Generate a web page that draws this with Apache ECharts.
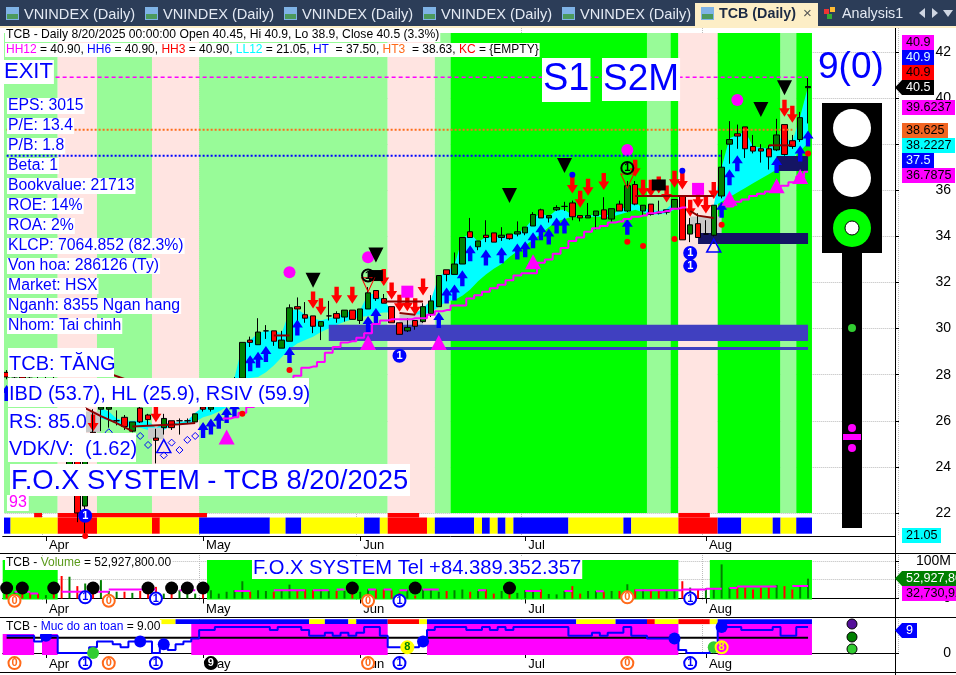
<!DOCTYPE html>
<html>
<head>
<meta charset="utf-8">
<title>TCB Daily</title>
<script src="https://cdn.jsdelivr.net/npm/echarts@6/dist/echarts.min.js"></script>
<style>
html, body { margin: 0; padding: 0; background: #fff; overflow: hidden; }
#chart { width: 956px; height: 675px; }
</style>
</head>
<body>
<div id="chart"></div>
<script>
// month starts on the bar axis, 103 bars plus empty slots up to the price scale
var monthStarts = [5, 25, 45, 66, 89];
var monthNames = ["Apr", "May", "Jun", "Jul", "Aug"];
var slotCount = 114;
var barCount = 103;

// open, close, low, high
var candles = [
    [28.1,27.9,27.8,28.2],[27.9,28,27.7,28.2],[28,27.85,27.7,28.1],[27.85,27.8,27.6,28],[27.8,27.6,27.4,27.9],
    [27.6,27.8,27.5,27.9],[27.8,27.5,27.4,27.9],[26.5,24.7,24.7,26.5],[23.6,24.3,23.2,24.8],[24.3,22,21.6,24.3],
    [22.3,24.8,21.05,25.2],[25.5,25.4,25.2,26.5],[26.5,26.6,25.55,26.8],[26.5,26.6,25.7,26.8],[26,26,25.8,26.45],
    [26.15,25.75,25.6,26.25],[25.55,25.95,25.5,25.95],[26.55,25.95,25.9,26.6],[26.25,26.05,25.8,26.3],[25.25,25.15,24.15,25.65],
    [25.7,26.1,25.4,26.3],[26,25.7,25.6,26],[26,26,25.4,26.1],[26,26,25.9,26.1],[25.95,26.3,25.9,26.3],
    [26.6,26.5,26.4,26.75],[26.5,26.6,26.4,26.8],[26.7,27,26.6,27.1],[27,27.3,26.9,27.4],[27.3,27.8,27.2,27.9],
    [27.85,29.4,27.85,29.4],[29.5,29.4,29.2,29.65],[29.3,29.85,29.3,30.45],[29.9,29.9,29.55,30.15],[29.9,29.45,29.25,29.9],
    [29.15,29.5,29.15,29.9],[29.45,30.9,29.45,31.05],[30.95,30.85,30.35,31.35],[30.6,30.45,30.25,31.15],[30.55,30.1,29.8,30.55],
    [30.1,30.3,29.5,30.3],[30.55,30.55,30.35,31.2],[30.65,30.45,30.25,30.75],[30.5,30.8,30.3,30.8],[30.8,30.4,30.4,30.8],
    [30.35,30.85,30.2,30.85],[30.85,31.55,30.85,31.8],[31.65,31.3,31.2,31.65],[31.3,31.1,31.1,31.5],[30.95,30.25,30.25,30.95],
    [30.25,29.75,29.75,30.25],[29.9,30.05,29.85,30.45],[30.35,30.1,29.95,30.35],[30.3,30.95,30.25,31.1],[30.65,31.2,30.5,31.45],
    [30.95,32.3,30.95,32.3],[32.55,32.35,32.05,32.55],[32.35,32.8,32.35,33.3],[32.8,33.95,32.8,33.95],[34.2,33.95,33.95,34.8],
    [33.55,33.8,33.4,33.8],[34.05,33.95,33.75,34.7],[34.15,33.75,33.75,34.15],[33.95,34.05,33.8,34.4],[34.1,33.9,33.85,34.1],
    [34.1,34.2,34,34.65],[34.15,34.4,34.05,34.4],[34.45,34.95,34.45,35.05],[35.15,34.8,34.8,35.2],[34.8,34.9,34.6,34.9],
    [35.15,35.25,35.1,35.35],[35.3,35.3,35.1,35.5],[35.45,34.85,34.7,35.55],[34.9,34.8,34.65,34.9],[34.8,34.9,34.8,35.45],
    [34.9,35.1,34.3,35.1],[35.15,34.75,34.75,35.7],[34.75,35.2,34.6,35.2],[35.4,35.1,35.1,35.55],[35.1,36.2,35.05,36.4],
    [36.25,35.4,35.35,36.4],[35.1,35.35,34.9,35.35],[35.4,34.95,34.9,35.4],[35.05,35,34.95,35.55],[35.05,35.15,34.95,35.15],
    [35.2,35.6,35.2,35.6],[35.75,33.85,33.85,35.75],[34.1,34.5,33.75,34.8],[34.55,33.95,33.95,35],[34.1,34.1,34.1,34.7],
    [34.05,35.35,34,35.35],[35.75,37,35.65,37.75],[38,38.2,37.15,39],[38.45,38.35,37.8,38.85],[38.75,37.8,37.4,38.75],
    [37.9,37.7,37.6,38.4],[37.8,37.7,37.2,38],[37.8,37.45,36.9,37.95],[37.75,38.4,37.7,39.1],[38.85,37.55,37.5,38.85],
    [38.15,37.9,37.8,38.4],[38.2,39.15,38.1,39.4],[40.45,40.5,38.9,40.9]
];

// volume in millions
var volumes = [20,18,22,15,13,9,12,60,58,33,40,25,49,20,18,18,15,20,18,31,
    13,20,22,13,13,20,22,13,18,22,46,18,22,20,18,20,37,20,24,22,
    24,20,20,20,24,18,24,24,24,22,15,22,8,24,24,18,20,22,24,18,
    20,24,13,20,12,15,22,20,24,12,11,20,33,13,20,20,18,20,20,38,
    24,24,22,20,22,22,46,29,24,27,24,91,29,31,29,24,29,29,36,33,24,36,52.9];
var volumeAvgSegments = [[1,3,18],[3,4,13],[7,13,18],[13,19,24],[22,24,22],[29,31,20],[34,38,22],[39,41,22],[42,43,24],
    [46,47,24],[48,49,24],[50,51,22],[53,55,24],[60,61,22],[66,68,20],[71,72,20],[75,76,19],[80,86,22],[86,89,24],
    [89,91,26],[92,93,28],[93,98,32],[100,102,33]];
var volumeBlackDots = [[0,28],[2,28],[6,28],[11,28],[18,28],[21,28],[23,28],[25,28],[44,28],[52,28],[64,28]];

// safety level, 0 to 9
var safety = [6,6,6,6,4,6,6,0,0,0,0,2,4,4,3,2,4,4,4,0,
    3,1,3,4,5,8,8,9,9,9,9,9,9,9,8,9,9,9,8,6,
    6,7,6,7,6,7,9,9,6,2,2,2,2,4,8,9,9,9,9,8,
    8,9,8,9,8,9,9,9,9,9,9,9,6,6,6,7,6,7,7,9,
    6,6,5,5,5,5,1,0,0,0,2,9,9,9,8,8,8,8,9,6,6,9,9];
var safetyLevelLine = 5.3;
var safetyBlueDots = [[5,6],[17,4],[20,3],[53,4],[85,5],[91,9]];
var safetyGreenDots = [[11,0],[90,2]];
var safetyEights = [[51,2],[91,2]];

// stepped average on the price pane
var priceAvg = [null,null,null,null,null,null,null,null,null,null,null,null,null,null,null,null,null,null,null,null,
    null,null,null,null,null,null,null,null,26.1,26.15,26.35,26.6,26.85,27.05,27.25,27.45,27.65,27.95,28.3,28.35,
    28.55,28.95,29.2,29.4,29.45,29.6,29.8,30.2,30.35,30.4,30.4,30.4,30.45,30.45,30.6,30.75,30.8,31,31,31.3,
    31.45,31.6,31.75,31.9,32.1,32.3,32.4,32.4,32.85,33,33.25,33.5,33.8,33.95,34.2,34.35,34.45,34.6,34.65,34.75,
    34.85,34.9,35,35.05,35.1,35.2,35.25,null,null,null,null,null,35.3,35.5,35.6,35.75,35.85,35.95,36.05,36.2,36.35,36.6,36.8];

// cyan cloud edges
var cloudHigh = [null,null,null,null,null,null,null,null,null,null,null,null,
    26.55,26.4,26.1,26,26,26,26,25.7,25.9,25.9,25.95,26,26.35,26.6,26.9,27.2,27.3,27.85,
    29.3,29.5,29.8,29.9,29.9,29.8,30.75,30.85,30.6,30.45,30.35,30.45,30.5,30.7,30.75,30.8,31.5,31.5,31.2,30.8,
    null,null,
    30.66,30.88,31.24,32.28,32.47,32.76,33.92,34.13,33.77,33.96,33.96,34,34.06,34.13,34.35,34.79,35,34.86,35.15,35.15,
    34.93,34.86,34.9,34.93,34.93,34.93,35.15,35.29,35.51,35.2,35.15,35.1,35.2,35.5,
    null,null,null,null,
    35.36,37,38.26,38.4,38.55,37.9,37.85,37.8,38.2,38.3,38.1,39.2,40.5];
var cloudLow = [null,null,null,null,null,null,null,null,null,null,null,null,
    26.1,26,25.9,25.75,25.75,25.7,25.6,25.55,25.6,25.8,25.85,25.85,25.95,26.15,26.25,26.4,26.6,26.9,
    27.8,27.85,27.9,28.1,28.4,28.75,29.1,29.35,29.5,29.65,29.85,30,30.15,30.3,30.4,30.5,30.55,30.65,30.7,30.7,
    null,null,
    30.6,30.6,30.7,30.95,31.17,31.24,31.42,31.7,32.05,32.35,32.6,32.8,33.1,33.35,33.6,33.85,34.1,34.4,34.65,34.75,
    34.85,34.85,34.85,34.85,34.85,34.85,34.95,35.05,35.15,35.05,34.95,34.95,35,35.15,
    null,null,null,null,
    35.3,35.5,35.7,35.9,36.1,36.3,36.5,36.7,36.9,37.15,37.4,37.7,38.05];

// signal markers as [bar, price]
var upArrows = [[0,27.2],[25,25.6],[26,25.75],[27,26],[28,26.25],[29,26.5],[31,28.5],[32,28.65],[33,28.9],[36,28.85],[37,30.05],
    [46,30.2],[47,30.55],[55,30.37],[56,31.43],[57,31.56],[58,32.18],[59,33.27],[61,33.08],[63,33.18],[65,33.34],[66,33.44],
    [67,33.83],[68,34.18],[69,33.99],[70,34.47],[71,34.47],[79,34.42],[91,35.15],[92,36.56],[93,37.17],[98,37.1],[101,37.6],[102,38.25]];
var downArrows = [[11,25.9],[19,26.3],[39,31.24],[40,30.95],[42,31.45],[44,31.45],[48,32.22],[49,31.63],[50,31.1],[51,31.12],
    [52,30.95],[53,31.8],[72,36.23],[73,35.61],[74,36.13],[76,36.38],[80,36.95],[81,36.09],[82,36.09],[83,36.23],[84,35.84],
    [85,36.48],[86,36.4],[87,35.22],[88,35.61],[89,35.36],[90,35.99],[99,39.56],[100,39.3]];
var blackTriangles = [[39,32.1],[47,33.19],[64,35.77],[71,37.07],[96,39.5],[99,40.45]];
var magentaDots = [[36,32.44],[46,33.09],[79,37.75],[93,39.92]];
var magentaSquares = [[51,31.6],[88,36.06]];
var blackSquares = [[47,32.3],[83,36.23]];
var magentaTriangles = [[28,25.3],[46,29.4],[55,29.4],[67,32.9],[92,35.65],[98,36.2],[101,36.6]];
var outlineTriangles = [[20,24.9],[90,33.6]];
var redOutlineTriangles = [[46,31.9],[79,36.4]];
var hollowDiamonds = [[13,25.5],[17,25.34],[18,24.95],[20,24.5],[21,25.05],[22,24.73],[23,25.17],[24,25.34]];
var blueDiamonds = [[72,36.67],[86,36.85]];
var redDiamonds = [[10,21],[30,26.3],[36,28.2],[79,33.77],[81,33.58],[85,33.89],[91,34.5],[102,37.6]];
var blueOnes = [[10,21.88],[50,28.82],[87,33.28],[87,32.72]];
var blackOnes = [[46,32.3],[79,36.97]];

// circled counters under the volume and safety panes
var volumeOrange = [[1,-6],[13,-6],[46,-6],[79,3]];
var volumeBlue = [[10,3],[19,0],[50,-6],[87,0]];
var safetyOrange = [[1,-3.5],[13,-3.5],[46,-3.5],[79,-3.5]];
var safetyBlue = [[10,-3.5],[19,-3.5],[50,-3.5],[87,-3.5]];
var safetyNine = [[26,-3.5]];

// colour runs, [first bar, bar after last, code]
var regimeRuns = [[0,7,"L"],[7,12,"P"],[12,19,"L"],[19,25,"P"],[25,49,"L"],[49,55,"P"],[55,57,"L"],[57,82,"G"],[82,85,"L"],
    [85,86,"G"],[86,91,"P"],[91,99,"G"],[99,101,"L"],[101,103,"G"]];
var stripTopRuns = [[4,5,"R"],[7,26,"R"],[49,53,"R"],[86,90,"R"]];
var stripRuns = [[0,1,"B"],[1,7,"Y"],[7,12,"R"],[12,19,"Y"],[19,20,"R"],[20,25,"Y"],[25,34,"B"],[34,36,"Y"],[36,38,"B"],
    [38,46,"Y"],[46,48,"B"],[48,49,"Y"],[49,54,"R"],[54,55,"Y"],[55,60,"B"],[60,61,"Y"],[61,62,"B"],[62,63,"Y"],[63,64,"B"],
    [64,65,"Y"],[65,72,"B"],[72,79,"Y"],[79,80,"B"],[80,86,"Y"],[86,91,"R"],[91,94,"B"],[94,98,"Y"],[98,99,"B"],[99,101,"Y"],[101,103,"B"]];
var volumeLimeRuns = [[0,7,"G"],[26,86,"G"],[90,103,"G"]];
var safetyStripRuns = [[20,22,"Y"],[22,39,"B"],[39,41,"Y"],[41,44,"B"],[44,45,"Y"],[45,49,"B"],[49,53,"R"],[53,54,"Y"],[54,73,"B"],
    [73,78,"Y"],[78,82,"B"],[82,83,"R"],[83,86,"Y"],[86,90,"R"],[90,91,"Y"],[91,103,"B"]];
var safetyFillLow = [[0,4,"M"],[5,7,"M"]];
var safetyFillHigh = [[24,49,"M"],[54,86,"M"],[91,103,"M"]];

// boxes on the price pane, [first bar, last bar, low, high]
var grayBoxes = [[10,12,25.5,26.4],[18,20,25.2,25.7],[50,53,30.15,30.6],[87,91,34.13,34.86]];
var indigoBoxes = [[41,102,29.46,30.16],[36,102,29.07,29.2]];
var navyBoxes = [[88,102,33.67,34.15],[98,102,36.84,37.49]];

// dark red base lines
var baseLines = [
    [[13,28.05],[16,27.7]],
    [[10,26.55],[12,26.2],[14,25.9],[16,25.55]],
    [[16,25.75],[22,25.85],[24,25.9]],
    [[34,29.7],[36,29.7]],
    [[48,31.17],[53,31.17]],
    [[50,30.68],[52,30.6]],
    [[80,35.75],[90,35.75]],
    [[87,35.1],[88,34.9],[90,34.8]],
    [[97,37.95],[100,37.95]]
];

// level lines, [first bar, last bar, price]
var hhLevel = [0, 102, 40.9];
var ht3Level = [0, 100, 38.625];
var htLevel = [0, 91, 37.5];

var priceTicks = [22,24,26,28,30,32,34,36,38,40,42];
var volumeTicks = [0,50,100];
var safetyTicks = [0];

var infoLines = ["EPS: 3015","P/E: 13.4","P/B: 1.8","Beta: 1","Bookvalue: 21713","ROE: 14%","ROA: 2%",
    "KLCP: 7064.852 (82.3%)","Von hoa: 286126 (Ty)","Market: HSX","Nganh: 8355 Ngan hang","Nhom: Tai chinh"];

var colors = {
    L: "#98fb98", P: "#ffe4e1", G: "#00ff00", R: "#ff0000", B: "#0000ff", Y: "#ffff00", M: "#ff00ff"
};
var BLUE = "#0000ff", MAGENTA = "#ff00ff", RED = "#ff0000", FONT = '"Liberation Sans", Arial, sans-serif';

var categories = [];
for (var c = 0; c < slotCount; c++) {
    var at = monthStarts.indexOf(c);
    categories.push(at >= 0 ? monthNames[at] : "");
}

// colour runs reach from bar edge to bar edge between two prices
function runSeries(runs, low, high, pane) {
    return {
        type: "custom", xAxisIndex: pane, yAxisIndex: pane, silent: true,
        data: runs.map(function(r) { return [r[0], low]; }),
        encode: { x: 0, y: 1 },
        renderItem: function(params, api) {
            var r = runs[params.dataIndex];
            var half = api.size([1, 0])[0] / 2;
            var a = api.coord([r[0], high]), b = api.coord([r[1], low]);
            return { type: "rect", shape: { x: a[0] - half, y: a[1], width: b[0] - a[0], height: b[1] - a[1] },
                style: { fill: colors[r[2]] } };
        }
    };
}

// boxes reach from bar centre to bar centre
function boxSeries(boxes, fill) {
    return {
        type: "custom", xAxisIndex: 0, yAxisIndex: 0, silent: true,
        data: boxes.map(function(r) { return [r[0], r[2]]; }),
        encode: { x: 0, y: 1 },
        renderItem: function(params, api) {
            var r = boxes[params.dataIndex];
            var a = api.coord([r[0], r[3]]), b = api.coord([r[1], r[2]]);
            return { type: "rect", shape: { x: a[0], y: a[1], width: b[0] - a[0], height: b[1] - a[1] },
                style: { fill: fill } };
        }
    };
}

function cloudSeries() {
    var runs = [], cur = null;
    for (var i = 0; i < barCount; i++) {
        if (cloudHigh[i] == null) { cur = null; continue; }
        if (!cur) { cur = []; runs.push(cur); }
        cur.push(i);
    }
    return {
        type: "custom", xAxisIndex: 0, yAxisIndex: 0, silent: true,
        data: runs.map(function(r) { return [r[0], cloudLow[r[0]]]; }),
        encode: { x: 0, y: 1 },
        renderItem: function(params, api) {
            var run = runs[params.dataIndex], pts = [];
            run.forEach(function(i) { pts.push(api.coord([i, cloudHigh[i]])); });
            run.slice().reverse().forEach(function(i) { pts.push(api.coord([i, cloudLow[i]])); });
            return { type: "polygon", shape: { points: pts }, style: { fill: "#00ffff" } };
        }
    };
}

function marks(data, symbol, size, fill, pane, extra) {
    var s = {
        type: "scatter", xAxisIndex: pane || 0, yAxisIndex: pane || 0, silent: true,
        data: data, symbol: symbol, symbolSize: size, clip: false,
        itemStyle: { color: fill, opacity: 1 }
    };
    for (var k in extra || {}) s[k] = extra[k];
    return s;
}

function counter(data, ring, digit, pane, fill, ink) {
    return marks(data, "circle", 12, fill || "#ffffff", pane, {
        itemStyle: { color: fill || "#ffffff", borderColor: ring, borderWidth: 2, opacity: 1 },
        label: { show: true, position: "inside", formatter: digit, color: ink || ring,
            fontSize: 11, fontWeight: "bold", fontFamily: FONT }
    });
}

function levelLine(level, color, dash, width) {
    return {
        type: "line", xAxisIndex: 0, yAxisIndex: 0, silent: true, symbol: "none",
        data: [[level[0], level[2]], [level[1], level[2]]],
        lineStyle: { color: color, type: dash, width: width }
    };
}

function volumeAvgData() {
    var out = [];
    volumeAvgSegments.forEach(function(s) {
        out.push([s[0], s[2]], [s[1], s[2]], [s[1], null]);
    });
    return out;
}

var ARROW_UP = "path://M5 0L10 8H7V16H3V8H0Z";
var ARROW_DOWN = "path://M3 0H7V8H10L5 16L0 8H3Z";

function xAxis(gridIndex) {
    var isMonth = function(i) { return monthStarts.indexOf(i) >= 0; };
    return {
        type: "category", gridIndex: gridIndex, data: categories, boundaryGap: true,
        axisLine: { lineStyle: { color: "#000", width: 1 } },
        axisTick: { show: true, interval: isMonth, alignWithLabel: true, length: 5, lineStyle: { color: "#000" } },
        axisLabel: { interval: isMonth, align: "left", margin: 3, padding: [0, 0, 0, 3],
            color: "#000", fontSize: 13, fontFamily: FONT },
        splitLine: { show: true, interval: isMonth, lineStyle: { color: "#bbbbbb", type: "dotted" } }
    };
}

function yAxis(gridIndex, min, max, ticks, fmt) {
    return {
        type: "value", gridIndex: gridIndex, position: "right", offset: -3.4, min: min, max: max, scale: true,
        axisLine: { show: true, lineStyle: { color: "#000" } },
        axisTick: { show: true, length: 4, customValues: ticks, lineStyle: { color: "#000" } },
        axisLabel: { customValues: ticks, align: "right", margin: 56, color: "#000", fontSize: 14, fontFamily: FONT, formatter: fmt },
        splitLine: { show: true, lineStyle: { color: "#bbbbbb", type: "dotted" } }
    };
}

var series = [
    runSeries(regimeRuns, 22, 42.82, 0),
    runSeries(stripTopRuns, 21.8, 22, 0),
    runSeries(stripRuns, 21.1, 21.8, 0),
    cloudSeries(),
    boxSeries(grayBoxes, "#c8c8c8"),
    levelLine(hhLevel, MAGENTA, [4, 3], 1.5),
    levelLine(ht3Level, "#ff6a1a", [2, 2], 2),
    levelLine(htLevel, BLUE, [2, 2], 2),
    marks(upArrows, ARROW_UP, [11, 16], BLUE),
    marks(downArrows, ARROW_DOWN, [11, 17], RED),
    marks(magentaTriangles, "triangle", [16, 15], MAGENTA),
    marks(magentaDots, "circle", 12, MAGENTA),
    marks(magentaSquares, "rect", 12, MAGENTA),
    boxSeries(indigoBoxes, "#4040c0"),
    boxSeries(navyBoxes, "#141464")
];
baseLines.forEach(function(seg) {
    series.push({ type: "line", xAxisIndex: 0, yAxisIndex: 0, silent: true, symbol: "none", data: seg,
        lineStyle: { color: "#8b0000", width: 2 } });
});
series.push(
    { type: "line", xAxisIndex: 0, yAxisIndex: 0, silent: true, symbol: "none", step: "middle", data: priceAvg,
        lineStyle: { color: MAGENTA, width: 2 } },
    { type: "candlestick", xAxisIndex: 0, yAxisIndex: 0, silent: true, barWidth: 6, data: candles,
        itemStyle: { color: "#008000", color0: RED, borderColor: "#000", borderColor0: "#000", borderColorDoji: "#000", borderWidth: 1 } },
    marks(blackSquares, "rect", [14, 11], "#000", 0, { z: 3 }),
    marks(blackTriangles, "triangle", [15, 15], "#000", 0, { symbolRotate: 180, z: 3 }),
    marks(outlineTriangles, "triangle", [14, 13], "rgba(0,0,0,0)", 0, { z: 3, itemStyle: { color: "rgba(255,255,255,0)", borderColor: BLUE, borderWidth: 1.5, opacity: 1 } }),
    marks(redOutlineTriangles, "triangle", [13, 14], "rgba(0,0,0,0)", 0, { z: 3, symbolRotate: 180, itemStyle: { color: "rgba(255,255,255,0)", borderColor: RED, borderWidth: 1, opacity: 1 } }),
    marks(hollowDiamonds, "diamond", 7, "#fff", 0, { z: 3, itemStyle: { color: "rgba(255,255,255,0)", borderColor: BLUE, borderWidth: 1, opacity: 1 } }),
    marks(blueDiamonds, "circle", 6, BLUE, 0, { z: 3 }),
    marks(redDiamonds, "circle", 6, RED, 0, { z: 3 }),
    counter(blueOnes, BLUE, "1", 0, BLUE, "#fff"),
    counter(blackOnes, "#000", "1", 0, "rgba(0,0,0,0)", "#000"),

    // volume pane
    runSeries(volumeLimeRuns, -3, 102.7, 1),
    { type: "bar", xAxisIndex: 1, yAxisIndex: 1, silent: true, barWidth: 2,
        data: volumes.map(function(v, i) {
            return { value: v, itemStyle: { color: candles[i][1] >= candles[i][0] ? "#008000" : RED } };
        }) },
    { type: "line", xAxisIndex: 1, yAxisIndex: 1, silent: true, symbol: "none", data: volumeAvgData(),
        lineStyle: { color: MAGENTA, width: 2 } },
    marks(volumeBlackDots, "circle", 13, "#000", 1, { z: 3 }),
    counter(volumeOrange, "#ff6a1a", "0", 1),
    counter(volumeBlue, BLUE, "1", 1),

    // safety pane
    runSeries(safetyStripRuns, 10, 11.7, 2),
    runSeries(safetyFillLow, -0.69, 6.6, 2),
    runSeries(safetyFillHigh, -0.69, 10, 2),
    { type: "line", xAxisIndex: 2, yAxisIndex: 2, silent: true, symbol: "none",
        data: [[0, safetyLevelLine], [102, safetyLevelLine]], lineStyle: { color: "#000", width: 2 } },
    { type: "line", xAxisIndex: 2, yAxisIndex: 2, silent: true, symbol: "none", step: "middle", data: safety,
        lineStyle: { color: BLUE, width: 2 } },
    marks(safetyBlueDots, "circle", 12, BLUE, 2, { z: 3 }),
    marks(safetyGreenDots, "circle", 12, "#32cd32", 2, { z: 3 }),
    counter(safetyEights.slice(0, 1), "#ffff00", "8", 2, "#ffff00", "#008000"),
    counter(safetyEights.slice(1), "#ffff00", "8", 2, MAGENTA, "#ffff00"),
    counter(safetyOrange, "#ff6a1a", "0", 2),
    counter(safetyBlue, BLUE, "1", 2),
    counter(safetyNine, "#000", "9", 2, "#000", "#fff")
);
series.forEach(function(s) {
    if (s.label) s.z = 4;
});

// window furniture and annotation text
var g = [];
function rect(x, y, w, h, fill, z) {
    g.push({ type: "rect", silent: true, z: z || 90, shape: { x: x, y: y, width: w, height: h }, style: { fill: fill } });
}
function circle(cx, cy, r, fill, stroke) {
    g.push({ type: "circle", silent: true, z: 91, shape: { cx: cx, cy: cy, r: r }, style: { fill: fill, stroke: stroke || null } });
}
function label(x, y, text, size, color, bg, pad, rich) {
    var st = { text: text, font: size + "px " + FONT, fill: color };
    if (bg) { st.backgroundColor = bg; st.padding = pad || [0, 1]; }
    if (rich) st.rich = rich;
    g.push({ type: "text", silent: true, z: 95, x: x, y: y, style: st });
}
function tag(x, y, w, text, bg, ink, arrow) {
    if (arrow) {
        g.push({ type: "polygon", silent: true, z: 92, shape: { points: [[895, y + 7.5], [902, y], [902, y + 15]] }, style: { fill: bg } });
    }
    rect(x, y, w, 15, bg, 92);
    label(x + 4, y + 1, text, 12.6, ink);
}
function boxed(x, y, w, h, text, size) {
    rect(x, y, w, h, "#fff", 94);
    label(x + 1, y + (h - size) / 2 + 1.5, text, size, BLUE);
}

// tab bar
rect(0, 0, 956, 26, "#2c3d58");
rect(0, 26, 956, 2, "#fdeec6");
[6, 145, 284, 423, 562].forEach(function(x) {
    rect(x, 7, 13, 13, "#7fb3e6", 91);
    rect(x + 1, 14, 11, 5, "#4c9a5c", 91);
    label(x + 18, 7, "VNINDEX (Daily)", 14.6, "#e3e9f3");
});
rect(695, 3, 123, 25, "#fdeec6", 91);
rect(701, 7, 13, 13, "#7fb3e6", 92);
rect(702, 14, 11, 5, "#4c9a5c", 92);
g.push({ type: "text", silent: true, z: 95, x: 719, y: 7, style: { text: "TCB (Daily)", font: "bold 14.3px " + FONT, fill: "#1c2a44" } });
label(803, 6, "\u00d7", 15, "#555");
rect(824, 9, 5, 5, "#e33", 91); rect(830, 7, 5, 5, "#fb3", 91); rect(827, 14, 5, 5, "#3a3", 91);
label(842, 7, "Analysis1", 14.3, "#e3e9f3");
g.push({ type: "polygon", silent: true, z: 91, shape: { points: [[925, 8], [925, 18], [919, 13]] }, style: { fill: "#cfd6e2" } });
g.push({ type: "polygon", silent: true, z: 91, shape: { points: [[932, 8], [932, 18], [938, 13]] }, style: { fill: "#cfd6e2" } });
g.push({ type: "polygon", silent: true, z: 91, shape: { points: [[943, 10], [953, 10], [948, 17]] }, style: { fill: "#cfd6e2" } });

// clean the left edge, pane separators and the long scale line
rect(0, 28, 4, 507, "#fff", 89);
[553, 617, 672].forEach(function(y) { rect(0, y, 956, 1, "#000", 89); });
rect(895, 28, 1, 647, "#000", 89);
[536, 600, 655].forEach(function(y) { rect(896, y - 1, 4, 2, "#fff", 89); });

// headers
label(5, 28, "TCB - Daily 8/20/2025 00:00:00 Open 40.45, Hi 40.9, Lo 38.9, Close 40.5 (3.3%)", 12.15, "#000", "#fff", [1, 1]);
label(5, 43, "{m|HH12} = 40.90, {b|HH6} = 40.90, {r|HH3} = 40.90, {c|LL12} = 21.05, {b|HT}  = 37.50, {o|HT3}  = 38.63, {r|KC} = {EMPTY}",
    12, "#000", "#fff", [1, 1], {
        m: { fill: MAGENTA, font: "12px " + FONT }, b: { fill: BLUE, font: "12px " + FONT }, r: { fill: RED, font: "12px " + FONT },
        c: { fill: "#00ffff", font: "12px " + FONT }, o: { fill: "#ff6a1a", font: "12px " + FONT }
    });
label(5, 556, "TCB - {v|Volume} = 52,927,800.00", 12, "#000", "#fff", [1, 1], { v: { fill: "#5a9a1a", font: "12px " + FONT } });
label(5, 620, "TCB - {v|Muc do an toan} = 9.00", 12, "#000", "#fff", [1, 1], { v: { fill: BLUE, font: "12px " + FONT } });

// blue annotations
label(3, 60, "EXIT", 22, BLUE, "#fff", [1, 1]);
infoLines.forEach(function(t, i) { label(7, 98 + i * 20, t, 15.8, BLUE, "#fff", [0, 1]); });
label(542, 58, "S1", 38, BLUE, "#fff", [3, 1]);
label(602, 58, "S2M", 37, BLUE, "#fff", [3, 1]);
label(818, 49, "9(0)", 37, BLUE);
boxed(8, 348, 106, 29, "TCB: T\u0102NG", 20);
boxed(8, 378, 301, 29, "IBD (53.7), HL (25.9), RSIV (59.9)", 20);
boxed(8, 408, 78, 25, "RS: 85.0", 20);
boxed(8, 433, 128, 29, "VDK/V:  (1.62)", 20);
boxed(10, 464, 400, 32, "F.O.X SYSTEM - TCB 8/20/2025", 27.4);
label(7, 495, "93", 16, MAGENTA, "#fff", [0, 2]);
label(252, 557, "F.O.X SYSTEM Tel +84.389.352.357", 20.2, BLUE, "#fff", [1, 1]);

// traffic light
rect(822, 103, 60, 150, "#000");
rect(842, 253, 20, 275, "#000");
circle(852, 128, 19, "#fff");
circle(852, 178, 19, "#fff");
circle(852, 228, 19, "#00ff00");
circle(852, 228, 7, "#fff", "#000");
circle(852, 328, 4, "#32cd32");
circle(852, 428, 4, MAGENTA);
circle(852, 448, 4, MAGENTA);
rect(843, 434, 18, 6, MAGENTA, 91);

// safety dots beside the pane
circle(852, 624, 5, "#55109a", "#000");
circle(852, 637, 5, "#008000", "#000");
circle(852, 649, 5, "#32cd32", "#000");

// last value tags on the scale
tag(902, 35, 32, "40.9", MAGENTA, "#000");
tag(902, 50, 32, "40.9", BLUE, "#dff");
tag(902, 65, 32, "40.9", RED, "#000");
tag(902, 80, 32, "40.5", "#000", "#fff", true);
tag(902, 100, 53, "39.6237", MAGENTA, "#000");
tag(902, 123, 46, "38.625", "#f26522", "#000");
tag(902, 138, 53, "38.2227", "#00ffff", "#000");
tag(902, 153, 32, "37.5", BLUE, "#dff");
tag(902, 168, 53, "36.7875", MAGENTA, "#000");
tag(902, 528, 39, "21.05", "#00ffff", "#000");
tag(902, 571, 54, "52,927,80", "#008000", "#fff", true);
tag(902, 586, 54, "32,730,92", MAGENTA, "#000");
tag(902, 623, 15, "9", BLUE, "#fff", true);

var option = {
    animation: false,
    backgroundColor: "#fff",
    grid: [
        { left: 2.7, width: 895.7, top: 28, height: 508 },
        { left: 2.7, width: 895.7, top: 553, height: 47 },
        { left: 2.7, width: 895.7, top: 617, height: 38 }
    ],
    xAxis: [xAxis(0), xAxis(1), xAxis(2)],
    yAxis: [
        yAxis(0, 21, 43.04, priceTicks),
        yAxis(1, -4, 121.3, volumeTicks, function(v) { return v ? v + "M" : "0"; }),
        yAxis(2, -0.69, 12.46, safetyTicks)
    ],
    series: series,
    graphic: { elements: g }
};

var chart = echarts.init(document.getElementById("chart"), null, { renderer: "canvas" });
chart.setOption(option);
</script>
</body>
</html>
